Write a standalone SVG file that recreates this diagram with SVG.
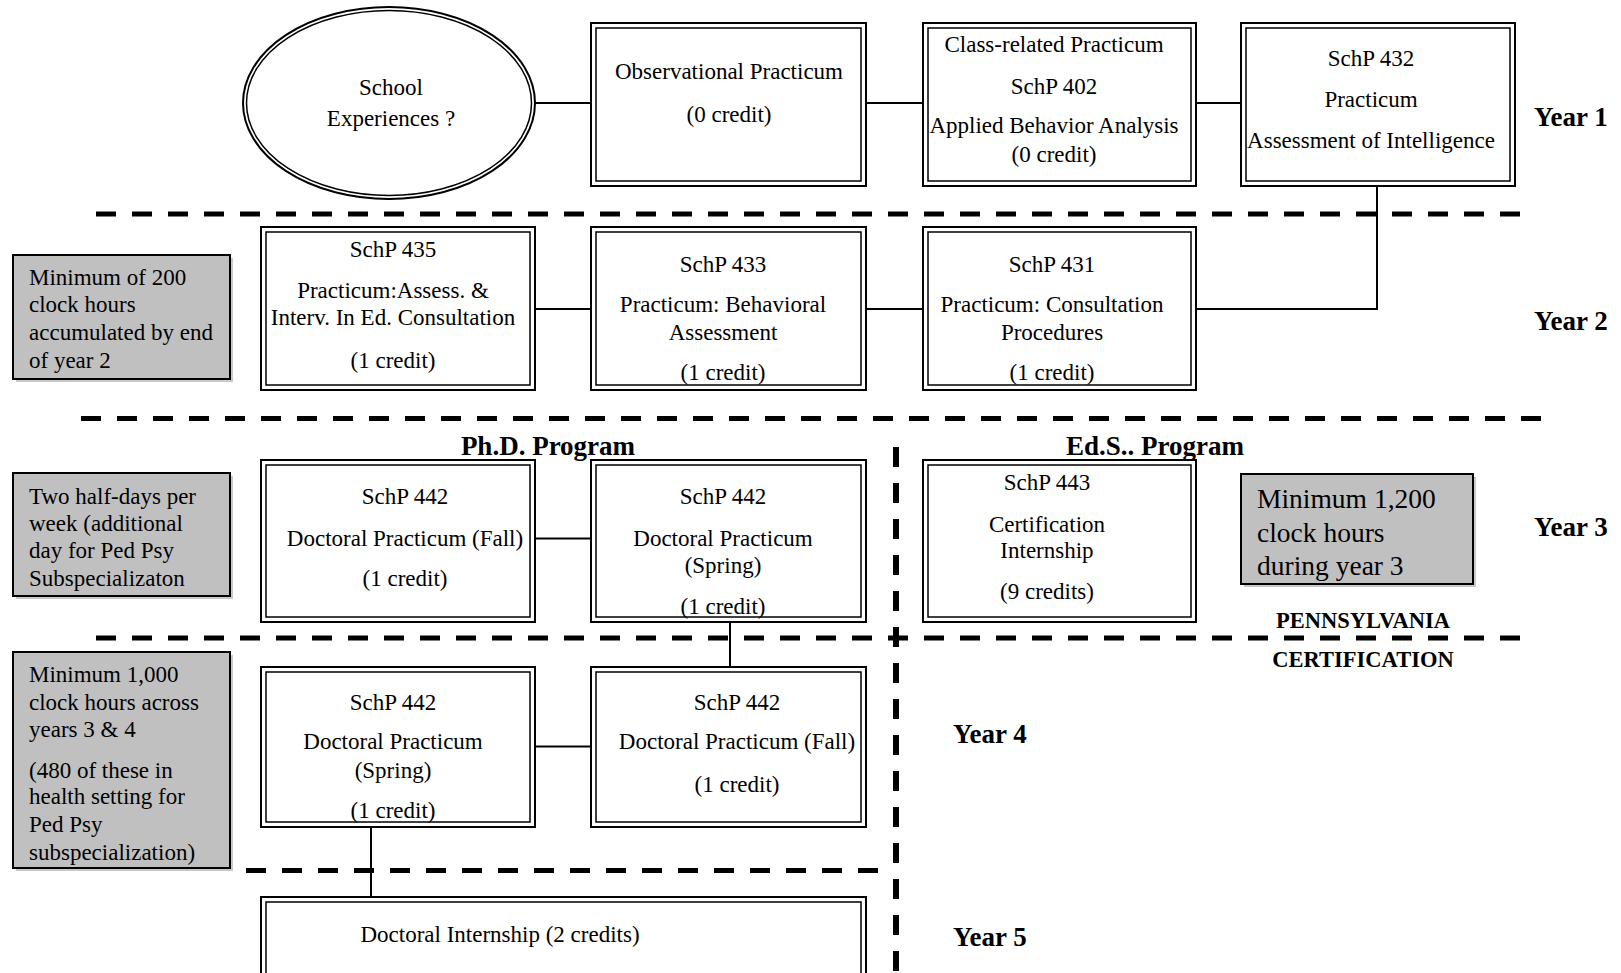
<svg xmlns="http://www.w3.org/2000/svg" width="1621" height="973" viewBox="0 0 1621 973">
<style>
.o{fill:#fff;stroke:#000;stroke-width:2}
.i{fill:none;stroke:#000;stroke-width:1.5}
.t{font-family:"Liberation Serif","Times New Roman",serif;font-size:23px;text-anchor:middle;fill:#000}
.n{font-family:"Liberation Serif","Times New Roman",serif;font-size:23px;fill:#000}
.nb{font-family:"Liberation Serif","Times New Roman",serif;font-size:27.5px;fill:#000}
.yr{font-family:"Liberation Serif","Times New Roman",serif;font-size:27px;font-weight:bold;fill:#000}
.hd{font-family:"Liberation Serif","Times New Roman",serif;font-size:27px;font-weight:bold;text-anchor:middle;fill:#000}
.ct{font-family:"Liberation Serif","Times New Roman",serif;font-size:22.5px;font-weight:bold;text-anchor:middle;fill:#000}
.g{fill:#c0c0c0;stroke:#000;stroke-width:2}
.sh{fill:#c8c8c8}
.c{fill:none;stroke:#000;stroke-width:2}
.d{fill:none;stroke:#000;stroke-width:5;stroke-dasharray:20 16}
</style>
<rect width="1621" height="973" fill="#fff"/>
<g id="dividers">
<line class="d" x1="96" y1="214" x2="1528" y2="214"/>
<line class="d" x1="81" y1="418.5" x2="1546" y2="418.5"/>
<line class="d" x1="96" y1="638" x2="1528" y2="638"/>
<line class="d" x1="246" y1="870.5" x2="889" y2="870.5"/>
<line class="d" x1="896" y1="447" x2="896" y2="973" style="stroke-width:6"/>
</g>
<g id="connectors">
<line class="c" x1="535" y1="103" x2="591" y2="103"/>
<line class="c" x1="866" y1="103" x2="923" y2="103"/>
<line class="c" x1="1196" y1="103" x2="1241" y2="103"/>
<polyline class="c" points="1377,186 1377,309 1196,309"/>
<line class="c" x1="535" y1="309" x2="591" y2="309"/>
<line class="c" x1="866" y1="309" x2="923" y2="309"/>
<line class="c" x1="535" y1="538.5" x2="591" y2="538.5"/>
<line class="c" x1="730" y1="622" x2="730" y2="667"/>
<line class="c" x1="535" y1="746.5" x2="591" y2="746.5"/>
<line class="c" x1="371" y1="827" x2="371" y2="897"/>
</g>
<g id="school">
<ellipse class="o" cx="389" cy="103" rx="146" ry="96"/>
<ellipse class="i" cx="389" cy="103" rx="142.5" ry="92.5"/>
<text class="t" x="391" y="95">School</text>
<text class="t" x="391" y="126">Experiences ?</text>
</g>
<g id="obs">
<rect class="o" x="591" y="23" width="275" height="163"/>
<rect class="i" x="596" y="28" width="265" height="153"/>
<text class="t" x="729" y="79">Observational Practicum</text>
<text class="t" x="729" y="122">(0 credit)</text>
</g>
<g id="schp402">
<rect class="o" x="923" y="23" width="273" height="163"/>
<rect class="i" x="928" y="28" width="263" height="153"/>
<text class="t" x="1054" y="52">Class-related Practicum</text>
<text class="t" x="1054" y="94">SchP 402</text>
<text class="t" x="1054" y="133">Applied Behavior Analysis</text>
<text class="t" x="1054" y="162">(0 credit)</text>
</g>
<g id="schp432">
<rect class="o" x="1241" y="23" width="274" height="163"/>
<rect class="i" x="1246" y="28" width="264" height="153"/>
<text class="t" x="1371" y="66">SchP 432</text>
<text class="t" x="1371" y="107">Practicum</text>
<text class="t" x="1371" y="148">Assessment of Intelligence</text>
</g>
<g id="year-labels">
<text class="yr" x="1534" y="126">Year 1</text>
<text class="yr" x="1534" y="330">Year 2</text>
<text class="yr" x="1534" y="536">Year 3</text>
<text class="yr" x="953" y="743">Year 4</text>
<text class="yr" x="953" y="946">Year 5</text>
</g>
<g id="note200">
<rect class="sh" x="16" y="258" width="217" height="124"/>
<rect class="g" x="13" y="255" width="217" height="124"/>
<text class="n" x="29" y="285">Minimum of 200</text>
<text class="n" x="29" y="312">clock hours</text>
<text class="n" x="29" y="340">accumulated by end</text>
<text class="n" x="29" y="368">of year 2</text>
</g>
<g id="schp435">
<rect class="o" x="261" y="227" width="274" height="163"/>
<rect class="i" x="266" y="232" width="264" height="153"/>
<text class="t" x="393" y="257">SchP 435</text>
<text class="t" x="393" y="298">Practicum:Assess. &amp;</text>
<text class="t" x="393" y="325">Interv. In Ed. Consultation</text>
<text class="t" x="393" y="368">(1 credit)</text>
</g>
<g id="schp433">
<rect class="o" x="591" y="227" width="275" height="163"/>
<rect class="i" x="596" y="232" width="265" height="153"/>
<text class="t" x="723" y="272">SchP 433</text>
<text class="t" x="723" y="312">Practicum: Behavioral</text>
<text class="t" x="723" y="340">Assessment</text>
<text class="t" x="723" y="380">(1 credit)</text>
</g>
<g id="schp431">
<rect class="o" x="923" y="227" width="273" height="163"/>
<rect class="i" x="928" y="232" width="263" height="153"/>
<text class="t" x="1052" y="272">SchP 431</text>
<text class="t" x="1052" y="312">Practicum: Consultation</text>
<text class="t" x="1052" y="340">Procedures</text>
<text class="t" x="1052" y="380">(1 credit)</text>
</g>
<g id="program-headers">
<text class="hd" x="548" y="455">Ph.D. Program</text>
<text class="hd" x="1155" y="455">Ed.S.. Program</text>
</g>
<g id="note-halfdays">
<rect class="sh" x="16" y="476" width="217" height="123"/>
<rect class="g" x="13" y="473" width="217" height="123"/>
<text class="n" x="29" y="504">Two half-days per</text>
<text class="n" x="29" y="531">week (additional</text>
<text class="n" x="29" y="558">day for Ped Psy</text>
<text class="n" x="29" y="586">Subspecializaton</text>
</g>
<g id="schp442-fall-y3">
<rect class="o" x="261" y="460" width="274" height="162"/>
<rect class="i" x="266" y="465" width="264" height="152"/>
<text class="t" x="405" y="504">SchP 442</text>
<text class="t" x="405" y="546">Doctoral Practicum (Fall)</text>
<text class="t" x="405" y="586">(1 credit)</text>
</g>
<g id="schp442-spring-y3">
<rect class="o" x="591" y="460" width="275" height="162"/>
<rect class="i" x="596" y="465" width="265" height="152"/>
<text class="t" x="723" y="504">SchP 442</text>
<text class="t" x="723" y="546">Doctoral Practicum</text>
<text class="t" x="723" y="573">(Spring)</text>
<text class="t" x="723" y="614">(1 credit)</text>
</g>
<g id="schp443">
<rect class="o" x="923" y="460" width="273" height="162"/>
<rect class="i" x="928" y="465" width="263" height="152"/>
<text class="t" x="1047" y="490">SchP 443</text>
<text class="t" x="1047" y="532">Certification</text>
<text class="t" x="1047" y="558">Internship</text>
<text class="t" x="1047" y="599">(9 credits)</text>
</g>
<g id="note1200">
<rect class="sh" x="1244" y="477" width="232" height="110"/>
<rect class="g" x="1241" y="474" width="232" height="110"/>
<text class="nb" x="1257" y="508">Minimum 1,200</text>
<text class="nb" x="1257" y="542">clock hours</text>
<text class="nb" x="1257" y="575">during year 3</text>
</g>
<g id="pa-cert">
<text class="ct" x="1363" y="628">PENNSYLVANIA</text>
<text class="ct" x="1363" y="667">CERTIFICATION</text>
</g>
<g id="note1000">
<rect class="sh" x="16" y="655" width="217" height="216"/>
<rect class="g" x="13" y="652" width="217" height="216"/>
<text class="n" x="29" y="682">Minimum 1,000</text>
<text class="n" x="29" y="710">clock hours across</text>
<text class="n" x="29" y="737">years 3 &amp; 4</text>
<text class="n" x="29" y="778">(480 of these in</text>
<text class="n" x="29" y="804">health setting for</text>
<text class="n" x="29" y="832">Ped Psy</text>
<text class="n" x="29" y="860">subspecialization)</text>
</g>
<g id="schp442-spring-y4">
<rect class="o" x="261" y="667" width="274" height="160"/>
<rect class="i" x="266" y="672" width="264" height="150"/>
<text class="t" x="393" y="710">SchP 442</text>
<text class="t" x="393" y="749">Doctoral Practicum</text>
<text class="t" x="393" y="778">(Spring)</text>
<text class="t" x="393" y="818">(1 credit)</text>
</g>
<g id="schp442-fall-y4">
<rect class="o" x="591" y="667" width="275" height="160"/>
<rect class="i" x="596" y="672" width="265" height="150"/>
<text class="t" x="737" y="710">SchP 442</text>
<text class="t" x="737" y="749">Doctoral Practicum (Fall)</text>
<text class="t" x="737" y="792">(1 credit)</text>
</g>
<g id="internship">
<rect class="o" x="261" y="897" width="605" height="120"/>
<rect class="i" x="266" y="902" width="595" height="110"/>
<text class="t" x="500" y="942">Doctoral Internship (2 credits)</text>
</g>
</svg>
